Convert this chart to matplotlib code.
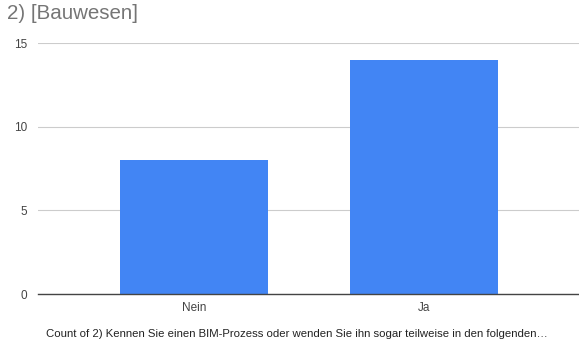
import matplotlib
matplotlib.use("Agg")
import matplotlib.pyplot as plt

categories = ["Nein", "Ja"]
counts = [8, 14]
yticks = [0, 5, 10, 15]
title = "2) [Bauwesen]"
xlabel = "Count of 2) Kennen Sie einen BIM-Prozess oder wenden Sie ihn sogar teilweise in den folgenden…"

plt.rcParams["font.family"] = ["Liberation Sans", "DejaVu Sans"]

fig = plt.figure(figsize=(5.79, 3.48), dpi=100)
ax = fig.add_axes([0.0656, 0.155, 0.9344, 0.721])

x = range(len(categories))
ax.bar(x, counts, width=0.645, color="#4285f4", zorder=3)

ax.set_xlim(-0.678, 1.674)
ax.set_ylim(0, 15)
ax.set_yticks(yticks)
ax.set_yticklabels([str(t) for t in yticks], fontsize=8.5, color="#444444")
ax.set_xticks(list(x))
ax.set_xticklabels(categories, fontsize=8.5, color="#444444")
ax.tick_params(length=0, pad=6)
ax.tick_params(axis="y", pad=8)

ax.grid(axis="y", color="#cccccc", linewidth=0.8, zorder=0)
for s in ["top", "right", "left"]:
    ax.spines[s].set_visible(False)
ax.spines["bottom"].set_color("#444444")
ax.spines["bottom"].set_linewidth(1)
ax.spines["bottom"].set_zorder(4)

fig.text(0.012, 0.962, title, fontsize=14.8, color="#757575", va="center", ha="left")
fig.text(0.513, 0.04, xlabel, fontsize=8.2, color="#222222", va="center", ha="center")

fig.savefig("out.png", dpi=100)
